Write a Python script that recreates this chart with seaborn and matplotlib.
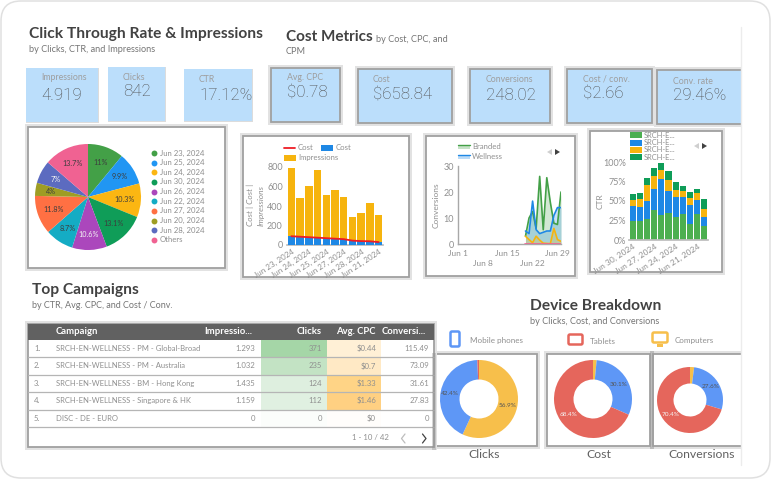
import numpy as np
import pandas as pd
import matplotlib
matplotlib.use("Agg")
import matplotlib.pyplot as plt
from matplotlib.patches import Rectangle, FancyBboxPatch, Polygon
import seaborn as sns

# ---------- data ----------
kpi_labels = ["Impressions", "Clicks", "CTR", "Avg. CPC", "Cost", "Conversions", "Cost / conv.", "Conv. rate"]
kpi_values = ["4.919", "842", "17.12%", "$0.78", "$658.84", "248.02", "$2.66", "29.46%"]

pie_dates = ["Jun 23, 2024", "Jun 25, 2024", "Jun 24, 2024", "Jun 30, 2024", "Jun 26, 2024",
             "Jun 22, 2024", "Jun 27, 2024", "Jun 20, 2024", "Jun 28, 2024", "Others"]
pie_shares = [11, 9.9, 10.3, 13.1, 10.6, 8.7, 11.8, 4, 7, 13.7]

combo_dates = ["Jun 23, 2024", "Jun 30, 2024", "Jun 24, 2024", "Jun 26, 2024", "Jun 25, 2024", "Jun 22, 2024",
               "Jun 27, 2024", "Jun 20, 2024", "Jun 28, 2024", "Jun 29, 2024", "Jun 21, 2024"]
combo_impressions = [790, 480, 610, 770, 510, 560, 495, 285, 325, 435, 310]
combo_cost = [90, 85, 80, 75, 70, 65, 60, 45, 40, 38, 30]

line_dates = pd.date_range("2024-06-20", "2024-06-30")
conv_branded = [3, 10, 12.5, 6, 26, 5.5, 25.5, 16, 8, 7.5, 20]
conv_wellness = [5, 4, 16.5, 5.5, 4, 4.5, 5, 5, 11, 14, 14]
conv_third = [3, 1.7, 0.5, 3, 1.5, 0.3, 0.2, 0.1, 6, 1.7, 1]
conv_fourth = [0, 0, 0, 0, 0, 0, 0, 0, 0, 0, 0]

ctr_dates = ["Jun 30, 2024", "Jun 29, 2024", "Jun 28, 2024", "Jun 27, 2024", "Jun 26, 2024", "Jun 25, 2024",
             "Jun 24, 2024", "Jun 23, 2024", "Jun 22, 2024", "Jun 21, 2024", "Jun 20, 2024"]
ctr_a = [25, 25, 26.5, 39, 32, 35, 29, 33.5, 20, 33, 17.5]
ctr_b = [19, 17, 24, 27, 46.5, 28, 26, 21, 25.5, 18, 12.5]
ctr_c = [7, 10.5, 19.5, 16, 11.5, 13.5, 9, 8.5, 8, 9, 10]
ctr_d = [7.5, 8, 9.5, 10, 9, 11.5, 10.5, 6.5, 8, 5, 12]

tbl_campaigns = ["SRCH-EN-WELLNESS - PM - Global-Broad", "SRCH-EN-WELLNESS - PM - Australia",
                 "SRCH-EN-WELLNESS - BM - Hong Kong", "SRCH-EN-WELLNESS - Singapore & HK", "DISC - DE - EURO"]
tbl_impr = ["1.293", "1.032", "1.435", "1.159", "0"]
tbl_clicks = ["371", "235", "124", "112", "0"]
tbl_cpc = ["$0.44", "$0.7", "$1.33", "$1.46", "$0"]
tbl_conv = ["115.49", "73.09", "31.61", "27.83", "0"]

devices = ["Computers", "Mobile phones", "Tablets"]
dev_clicks = [56.9, 42.4, 0.7]
dev_cost = [1.5, 30.1, 68.4]
dev_conv = [2, 27.6, 70.4]

# ---------- style ----------
sns.set_theme(style="white")
plt.rcParams["font.family"] = ["Lato", "DejaVu Sans"]
W, H = 771, 480
fig = plt.figure(figsize=(W / 100, H / 100), dpi=100, facecolor="white")

DARK = "#424242"
GREY = "#8f8f8f"
MID = "#757575"
BLUE = "#1e88e5"
AMBER = "#f6b40e"
GREEN = "#4caf50"
DKGREEN = "#0f9d58"

bg = fig.add_axes([0, 0, 1, 1], zorder=0)
bg.set_xlim(0, W)
bg.set_ylim(H, 0)
bg.axis("off")


def ax_px(x0, y0, x1, y1, **kw):
    a = fig.add_axes([x0 / W, 1 - y1 / H, (x1 - x0) / W, (y1 - y0) / H], zorder=2, **kw)
    a.patch.set_alpha(0)
    return a


def frame(x0, y0, x1, y1, fill="white", z=1):
    bg.add_patch(Rectangle((x0, y0), x1 - x0, y1 - y0, fc="#e2e2e2", ec="none", zorder=z))
    bg.add_patch(Rectangle((x0 + 3, y0 + 3), x1 - x0 - 6, y1 - y0 - 6, fc=fill, ec="#a0a0a0", lw=1.3, zorder=z + 0.1))


def card(x0, y0, x1, y1):
    bg.add_patch(Rectangle((x0 - 0.5, y0), x1 - x0 + 1, y1 - y0 + 1, fc="#dcdcdc", ec="none", zorder=1))
    bg.add_patch(Rectangle((x0, y0), x1 - x0, y1 - y0, fc="#bbdefb", ec="none", zorder=1.1))


def txt(x, y, s, size=6.5, color=MID, ha="left", weight="normal", z=6, **kw):
    bg.text(x, y, s, fontsize=size, color=color, ha=ha, va="center", weight=weight, zorder=z, **kw)


# outer rounded page
bg.add_patch(FancyBboxPatch((21, 21), 729, 437, boxstyle="round,pad=20,rounding_size=20",
                            fc="white", ec="#e0e0e0", lw=1.1, zorder=0.1))

# titles
txt(29, 34, "Click Through Rate & Impressions", 11.2, DARK, weight="bold")
txt(29, 50, "by Clicks, CTR, and Impressions", 6.6, MID)
txt(286, 37, "Cost Metrics", 11, DARK, weight="bold")
txt(376, 39, "by Cost, CPC, and", 6.6, MID)
txt(286, 52, "CPM", 6.6, MID)
txt(32, 290, "Top Campaigns", 11.2, DARK, weight="bold")
txt(32, 305, "by CTR, Avg. CPC, and Cost / Conv.", 6.5, MID)
txt(530, 306, "Device Breakdown", 11.2, DARK, weight="bold")
txt(530, 322, "by Clicks, Cost, and Conversions", 6.6, MID)

# KPI cards
card(26, 68, 98, 122)
card(108, 67, 165, 121)
card(184, 69, 252, 121)
frame(268, 65, 343, 125, "#bbdefb")
frame(355, 66, 455, 126, "#bbdefb")
frame(467, 66, 553, 126, "#bbdefb")
frame(564, 66, 655, 126, "#bbdefb")
frame(654, 67, 746, 127, "#bbdefb", z=1.3)
kpi_x = [41, 123, 199, 287, 373, 486, 583, 673]
kpi_ly = [78, 77, 79, 78, 79, 79, 79, 81]
kpi_vy = [95, 91, 95, 93, 95, 95, 94, 96]
for x, ly, vy, l, v in zip(kpi_x, kpi_ly, kpi_vy, kpi_labels, kpi_values):
    txt(x, ly, l, 6.3, "#9e9e9e")
    txt(x, vy, v, 12.2, "#505050", family="Roboto", weight="light")

# pie card
frame(25, 124, 228, 271)
pie_cols = ["#43a047", "#2196f3", "#fbb612", "#0f9d58", "#ab47bc", "#14acc4", "#ff7043", "#9e9d24", "#5c6bc0", "#f06292"]
ax = ax_px(35, 144, 141, 250)
wedges, _, autos = ax.pie(pie_shares, colors=pie_cols, startangle=90, counterclock=False, radius=1,
                          wedgeprops=dict(linewidth=0, edgecolor="none"),
                          autopct=lambda p: f"{p:.1f}".rstrip("0").rstrip(".") + "%", pctdistance=0.7,
                          textprops=dict(fontsize=5.2, color="#3d3d3d"))
for i in (4, 8):
    autos[i].set_color("#f3f3f3")
ax.set_xlim(-1, 1)
ax.set_ylim(-1, 1)
for i, (d, c) in enumerate(zip(pie_dates, pie_cols)):
    y = 153 + i * 9.65
    bg.scatter([154], [y], s=18, color=c, zorder=6, linewidths=0)
    txt(160, y, d, 5.6, GREY)

# combo chart
frame(240, 133, 412, 280)
ax = ax_px(287, 167, 383, 245)
sns.barplot(x=combo_dates, y=combo_impressions, color=AMBER, saturation=1, width=0.85, ax=ax, zorder=2, linewidth=0)
sns.barplot(x=combo_dates, y=combo_cost, color=BLUE, saturation=1, width=0.85, ax=ax, zorder=3, linewidth=0)
sns.lineplot(x=np.arange(len(combo_cost)), y=combo_cost, color="#ee1c25", lw=1.3, ax=ax, zorder=4)
ax.set_xlim(-0.5, 10.5)
ax.set_ylim(0, 800)
ax.set_xticks(np.arange(0, 11, 2))
ax.set_xticklabels(combo_dates[::2], rotation=33, ha="right", rotation_mode="anchor", fontsize=5.8, color=GREY)
ax.set_yticks([0, 200, 400, 600, 800])
ax.tick_params(axis="y", labelsize=6.5, labelcolor=GREY, length=0, pad=3)
ax.tick_params(axis="x", length=0, pad=2)
sns.despine(ax=ax, left=True)
ax.spines["bottom"].set_color("#bdbdbd")
txt(256, 205, "Cost | Cost |\nImpressions", 6, GREY, ha="center", rotation=90, style="italic",
    multialignment="center", linespacing=1.6)
bg.plot([284, 295], [148, 148], color="#ee1c25", lw=1.3, zorder=6)
txt(298, 148, "Cost", 5.6, GREY)
bg.add_patch(Rectangle((321, 145), 12, 5.5, fc=BLUE, ec="none", zorder=6))
txt(336, 148, "Cost", 5.6, GREY)
bg.add_patch(Rectangle((284, 155), 12, 5.5, fc=AMBER, ec="none", zorder=6))
txt(298, 157.5, "Impressions", 5.6, GREY)

# line chart
frame(423, 133, 578, 279)
ax = ax_px(458, 166, 561, 244)
line_series = [(conv_branded, "#43a047"), (conv_wellness, "#1e88e5"), (conv_third, AMBER), (conv_fourth, "#f06292")]
for vals, col in line_series:
    ax.fill_between(line_dates, vals, 0, color=col, alpha=0.24, lw=0, zorder=2)
    sns.lineplot(x=line_dates, y=vals, color=col, lw=1.2, ax=ax, zorder=3)
ax.set_xlim(pd.Timestamp("2024-06-01"), pd.Timestamp("2024-06-30"))
ax.set_ylim(0, 30)
ticks = pd.to_datetime(["2024-06-01", "2024-06-08", "2024-06-15", "2024-06-22", "2024-06-29"])
ax.set_xticks(ticks)
ax.set_xticklabels(["Jun 1", "\nJun 8", "Jun 15", "\nJun 22", "Jun 29"], fontsize=6, color=GREY, linespacing=1.5)
ax.set_yticks([0, 10, 20, 30])
ax.set_xlabel("")
ax.set_ylabel("")
ax.tick_params(axis="y", labelsize=6.5, labelcolor=GREY, length=0, pad=3)
ax.tick_params(axis="x", length=0, pad=4)
sns.despine(ax=ax)
for s in ("left", "bottom"):
    ax.spines[s].set_color("#a8a8a8")
    ax.spines[s].set_linewidth(1.0)
txt(436, 205, "Conversions", 6, GREY, ha="center", rotation=90)
for y, col, name in ((147, "#43a047", "Branded"), (157, "#1e88e5", "Wellness")):
    bg.add_patch(Rectangle((458, y - 2), 12, 4, fc=col, alpha=0.3, ec="none", zorder=6))
    bg.plot([458, 470], [y - 2, y - 2], color=col, lw=1, zorder=6)
    txt(472, y - 0.5, name, 5.6, GREY)


def nav(xc, y):
    bg.add_patch(Polygon([(xc - 3, y), (xc + 2, y - 3), (xc + 2, y + 3)], fc="#cfcfcf", ec="none", zorder=6))
    bg.add_patch(Polygon([(xc + 5, y - 3), (xc + 10, y), (xc + 5, y + 3)], fc="#424242", ec="none", zorder=6))


nav(550, 152)

# stacked chart
frame(587, 128, 725, 275)
ax = ax_px(629, 162, 708, 240)
stack_cols = [GREEN, BLUE, AMBER, DKGREEN]
cum = np.cumsum([ctr_a, ctr_b, ctr_c, ctr_d], axis=0)
for level in range(3, -1, -1):
    sns.barplot(x=ctr_dates, y=cum[level], color=stack_cols[level], saturation=1, width=0.86, ax=ax, linewidth=0)
ax.set_xlim(-0.5, 10.5)
ax.set_ylim(0, 100)
ax.set_xticks([0, 3, 6, 9])
ax.set_xticklabels(ctr_dates[0::3], rotation=33, ha="right", rotation_mode="anchor", fontsize=6, color=GREY)
ax.set_yticks([0, 25, 50, 75, 100])
ax.set_yticklabels(["0%", "25%", "50%", "75%", "100%"])
ax.tick_params(axis="y", labelsize=6.5, labelcolor=GREY, length=0, pad=2)
ax.tick_params(axis="x", length=0, pad=2)
sns.despine(ax=ax, left=True)
ax.spines["bottom"].set_color("#bdbdbd")
txt(600, 201, "CTR", 6, GREY, ha="center", rotation=90)
for y, c in zip((135, 142.5, 150, 157), stack_cols):
    bg.add_patch(Rectangle((630, y - 3), 12, 6, fc=c, ec="none", zorder=6))
    txt(644, y, "SRCH-E...", 5.4, GREY)
nav(697, 146)

# donuts (underneath the table edge)
frame(430, 351, 540, 449)
frame(544, 351, 653, 449)
frame(650, 351, 746, 449)
bg.add_patch(Rectangle((650, 351), 4, 98, fc="#9e9e9e", alpha=0.55, ec="none", zorder=1.4))
dev_cols = ["#f7bf4b", "#5e97f6", "#e5665c"]
donuts = [(dev_clicks, 479, 399, 39, 0.5, "Clicks", 484), (dev_cost, 593, 399, 39, 0.5, "Cost", 599),
          (dev_conv, 690, 400, 33, 0.5, "Conversions", 702)]
for vals, cx, cy, r, w, name, lx in donuts:
    ax = ax_px(cx - r, cy - r, cx + r, cy + r)
    _, _, at = ax.pie(vals, colors=dev_cols, startangle=90, counterclock=False, radius=1,
                      wedgeprops=dict(width=w, linewidth=0, edgecolor="none"),
                      autopct=lambda p: f"{p:.1f}%" if p > 5 else "", pctdistance=0.75,
                      textprops=dict(fontsize=4.6, color="#555555"))
    ax.set_xlim(-1, 1)
    ax.set_ylim(-1, 1)
    at[2].set_color("#f5f5f5")
    txt(lx, 454, name, 8.8, "#616161", ha="center")

# right margin of the report canvas
bg.add_patch(Rectangle((741, 60), 9, 395, fc="white", ec="none", zorder=1.8))
bg.plot([741, 741], [27, 465], color="#ececec", lw=1, zorder=1.9)

# device legend icons
bg.add_patch(FancyBboxPatch((451, 332), 8, 14, boxstyle="round,pad=0.5,rounding_size=1.5", fc="white", ec="#5e97f6", lw=1.8, zorder=6))
txt(470, 341, devices[1], 5.8, GREY)
bg.add_patch(FancyBboxPatch((569, 335), 13, 9, boxstyle="round,pad=0.5,rounding_size=1.5", fc="white", ec="#e5665c", lw=1.8, zorder=6))
txt(590, 341, devices[2], 5.8, GREY)
bg.add_patch(FancyBboxPatch((653, 333), 14, 9, boxstyle="round,pad=0.5,rounding_size=1.5", fc="white", ec="#f7bf4b", lw=1.8, zorder=6))
bg.add_patch(Rectangle((657, 344), 6, 2.5, fc="#f7bf4b", ec="none", zorder=6))
txt(675, 341, devices[0], 5.8, GREY)

# table
frame(25, 321, 437, 450, z=3)
bg.add_patch(Rectangle((28, 324), 406, 15.5, fc="#616161", ec="none", zorder=3.5))
row_h = 17.5
click_cols = ["#a5d6a7", "#c3e3c4", "#deefdf", "#e0f0e1", "#fbfdfb"]
cpc_cols = ["#fff0d6", "#ffe9c5", "#ffd486", "#ffd082", "#fffdfb"]
hdr = [(55.5, "Campaign", "left"), (252, "Impressio...", "right"), (322, "Clicks", "right"),
       (376, "Avg. CPC", "right"), (426, "Conversi...", "right")]
for x, s, ha in hdr:
    txt(x, 332, s, 6.8, "white", ha=ha, weight="bold")
for i in range(5):
    top = 339.5 + i * row_h
    cy = top + row_h / 2
    bg.add_patch(Rectangle((261, top), 66, row_h, fc=click_cols[i], ec="none", zorder=3.6))
    bg.add_patch(Rectangle((327, top), 54, row_h, fc=cpc_cols[i], ec="none", zorder=3.6))
    bg.plot([28, 434], [top + row_h] * 2, color="#b5b5b5", lw=0.9, zorder=3.7)
    txt(34, cy, f"{i + 1}.", 5.6, GREY)
    txt(55.5, cy, tbl_campaigns[i], 5.5, GREY)
    txt(255, cy, tbl_impr[i], 5.6, GREY, ha="right")
    txt(322, cy, tbl_clicks[i], 5.6, GREY, ha="right")
    txt(376, cy, tbl_cpc[i], 5.6, GREY, ha="right")
    txt(429, cy, tbl_conv[i], 5.6, GREY, ha="right")
bg.add_patch(Rectangle((432, 353), 4, 97, fc="#8a8a8a", alpha=0.35, ec="none", zorder=5))
txt(370, 438, "1 - 10 / 42", 5.6, GREY, ha="center")
bg.plot([405, 401.5, 405], [434, 438.5, 443], color="#bdbdbd", lw=0.9, zorder=6)
bg.plot([422.5, 426, 422.5], [434, 438.5, 443], color="#424242", lw=0.9, zorder=6)

fig.savefig("out.png", dpi=100)
